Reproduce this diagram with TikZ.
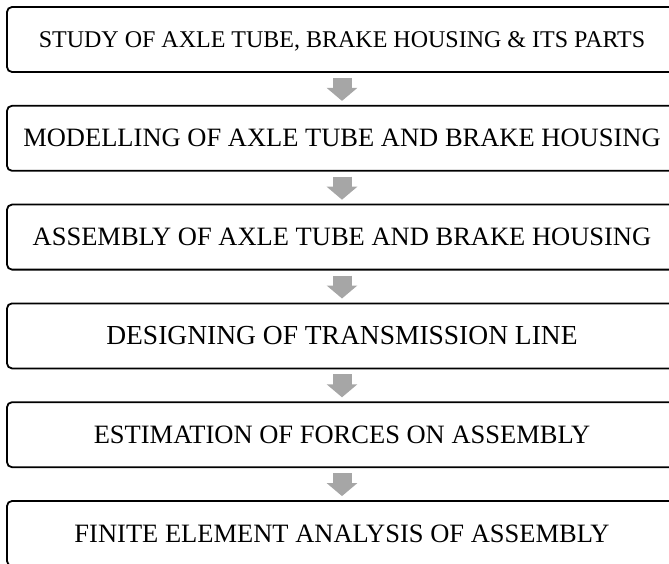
\documentclass[tikz,border=0pt]{standalone}
\usepackage{fontspec}
\setmainfont{Liberation Serif}
\usetikzlibrary{arrows.meta}
\definecolor{arrowgray}{RGB}{166,166,166}
\tikzset{
  stepbox/.style={draw=black, line width=1.8pt, rounded corners=5pt, minimum width=670pt, minimum height=65pt, inner sep=0pt, text height=17pt, text depth=0pt, font=\fontsize{26.5}{30}\selectfont},
  bigarrow/.style={draw=arrowgray, line width=19pt, -{Triangle[width=30pt,length=13pt]}}
}
\begin{document}
\begin{tikzpicture}[x=1pt,y=-1pt]
\useasboundingbox (0,0) rectangle (669,564);
\node[stepbox, font=\fontsize{24}{28}\selectfont, text height=16pt] (b1) at (342,39.5) {STUDY OF AXLE TUBE, BRAKE HOUSING \& ITS PARTS};
\node[stepbox] (b2) at (342,138.3) {MODELLING OF AXLE TUBE AND BRAKE HOUSING};
\node[stepbox] (b3) at (342,237.1) {ASSEMBLY OF AXLE TUBE AND BRAKE HOUSING};
\node[stepbox, font=\fontsize{27.5}{31}\selectfont] (b4) at (342,335.9) {DESIGNING OF TRANSMISSION LINE};
\node[stepbox] (b5) at (342,434.7) {ESTIMATION OF FORCES ON ASSEMBLY};
\node[stepbox] (b6) at (342,533.5) {FINITE ELEMENT ANALYSIS OF ASSEMBLY};
\foreach \a/\b in {b1/b2,b2/b3,b3/b4,b4/b5,b5/b6}
  \draw[bigarrow] ([yshift=-5pt]\a.south) -- ([yshift=4pt]\b.north);
\end{tikzpicture}
\end{document}
